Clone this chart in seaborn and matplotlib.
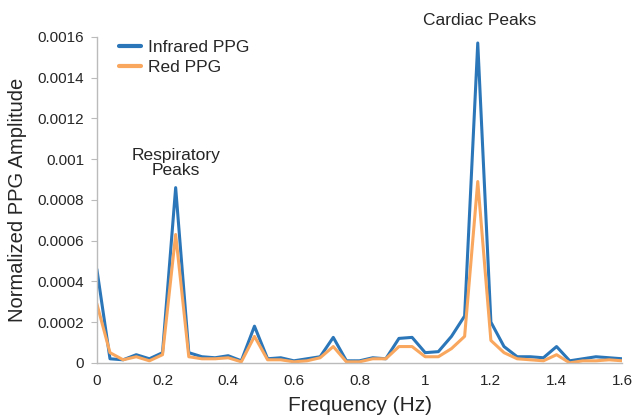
import numpy as np
import pandas as pd
import matplotlib
matplotlib.use("Agg")
import matplotlib.pyplot as plt
import seaborn as sns

# -------------------------------
# Data
# -------------------------------
freq = [round(0.04 * i, 2) for i in range(41)]

infrared = [0.00046, 0.00002, 0.000015, 0.00004, 0.00002, 0.00005, 0.00086, 0.00005,
            0.00003, 0.000025, 0.000035, 0.00001, 0.00018, 0.00002, 0.000025, 0.00001,
            0.00002, 0.00003, 0.000125, 0.00001, 0.00001, 0.000025, 0.00002, 0.00012,
            0.000125, 0.00005, 0.000055, 0.00013, 0.00023, 0.00157, 0.0002, 0.00008,
            0.00003, 0.00003, 0.000025, 0.00008, 0.00001, 0.00002, 0.00003, 0.000025,
            0.00002]

red = [0.00029, 0.00005, 0.000015, 0.00003, 0.00001, 0.00004, 0.00063, 0.00003,
       0.00002, 0.00002, 0.000025, 0.000005, 0.00013, 0.000015, 0.000015, 0.000005,
       0.00001, 0.000025, 0.00008, 0.000005, 0.000005, 0.00002, 0.00002, 0.00008,
       0.00008, 0.00003, 0.00003, 0.00007, 0.00013, 0.00089, 0.00011, 0.00005,
       0.00002, 0.000015, 0.00001, 0.00004, 0.0, 0.00001, 0.00001, 0.000015,
       0.00001]

series_names = ["Infrared PPG", "Red PPG"]
colors = ["#2A76B8", "#F9A75E"]

df = pd.DataFrame({
    "Frequency": freq * 2,
    "Amplitude": infrared + red,
    "Signal": [series_names[0]] * len(freq) + [series_names[1]] * len(freq),
})

# -------------------------------
# Plot
# -------------------------------
sns.set_style("white")
plt.rcParams["font.family"] = ["Liberation Sans", "DejaVu Sans"]

fig = plt.figure(figsize=(6.33, 4.19), dpi=100)
ax = fig.add_axes([0.153, 0.134, 0.830, 0.778])

sns.lineplot(data=df, x="Frequency", y="Amplitude", hue="Signal",
             palette=colors, linewidth=2.2, ax=ax)

ax.set_xlim(0, 1.6)
ax.set_ylim(0, 0.0016)
ax.set_xticks(np.arange(0, 1.61, 0.2))
ax.set_xticklabels(["0", "0.2", "0.4", "0.6", "0.8", "1", "1.2", "1.4", "1.6"])
ax.set_yticks(np.arange(0, 0.00161, 0.0002))
ax.set_yticklabels(["0", "0.0002", "0.0004", "0.0006", "0.0008", "0.001",
                    "0.0012", "0.0014", "0.0016"])
ax.tick_params(axis="y", labelsize=11, length=4, color="#BBBBBB",
               direction="out", left=True, pad=5)
ax.tick_params(axis="x", labelsize=11, length=0, pad=8)

for s in ["top", "right"]:
    ax.spines[s].set_visible(False)
for s in ["left", "bottom"]:
    ax.spines[s].set_color("#BBBBBB")
    ax.spines[s].set_linewidth(1)

ax.set_xlabel("Frequency (Hz)", fontsize=15, labelpad=6)
ax.set_ylabel("Normalized PPG Amplitude", fontsize=14.5, labelpad=8)

leg = ax.legend(title=None, frameon=False, fontsize=12.5, loc="upper left",
                bbox_to_anchor=(0.012, 1.04), handlelength=1.3,
                handletextpad=0.4, labelspacing=0.3)
for line in leg.get_lines():
    line.set_linewidth(3)

ax.text(0.24, 0.00098, "Respiratory\nPeaks", ha="center", va="center",
        fontsize=12.5, linespacing=1.05)
ax.text(1.165, 0.00168, "Cardiac Peaks", ha="center", va="center",
        fontsize=12.5, clip_on=False)

fig.savefig("out.png", dpi=100)
